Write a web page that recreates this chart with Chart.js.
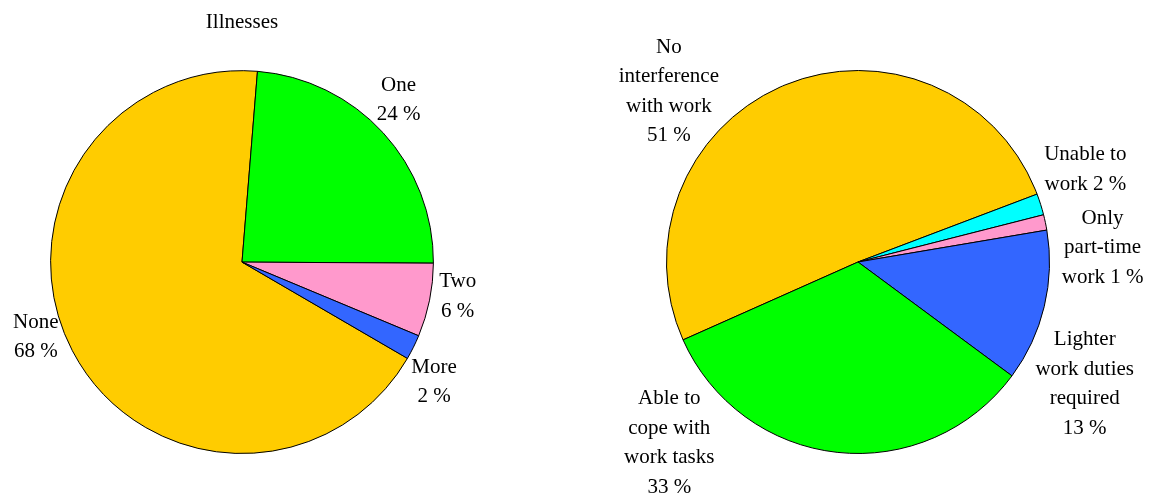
<!DOCTYPE html>
<html>
<head>
<meta charset="utf-8">
<script src="https://cdn.jsdelivr.net/npm/chart.js@4/dist/chart.umd.min.js"></script>
<style>
  html, body { margin: 0; padding: 0; background: #ffffff; }
  #wrap { position: relative; width: 1151px; height: 494px; background: #ffffff; }
  .layer { position: absolute; left: 0; top: 0; width: 1151px; height: 494px; }
</style>
</head>
<body>
<div id="wrap">
  <div class="layer"><canvas id="left" width="1151" height="494"></canvas></div>
  <div class="layer"><canvas id="right" width="1151" height="494"></canvas></div>
</div>
<script>
// ---- Data: left pie (Illnesses) ----
const leftTitle = "Illnesses";
const leftCategories = [["None"], ["One"], ["Two"], ["More"]];
const leftValues = [67.9, 23.8, 6.2, 2.1];
const leftColors = ["#FFCC00", "#00FF00", "#FF99CC", "#3366FF"];

// ---- Data: right pie ----
const rightCategories = [
  ["No", "interference", "with work"],
  ["Unable to", "work"],
  ["Only", "part-time", "work"],
  ["Lighter", "work duties", "required"],
  ["Able to", "cope with", "work tasks"]
];
const rightValues = [50.9, 1.8, 1.3, 12.8, 33.2];
const rightColors = ["#FFCC00", "#00FFFF", "#FF99CC", "#3366FF", "#00FF00"];

// ---- Label layout (angle clockwise from top in degrees, extra distance beyond radius) ----
const leftLabelAngle = [250, 44, 99, 122];
const leftLabelGap = [28, 34, 27, 35];
const leftPctInline = [false, false, false, false];
const rightLabelAngle = [312, 67.8, 86.7, 118.3, 226.2];
const rightLabelGap = [63, 54, 53.5, 66, 70];
const rightPctInline = [false, true, true, false, false];

const FONT = "'Liberation Serif', 'Times New Roman', serif";
const LABEL_SIZE = 21;
const LINE_H = 29.5;

const outsideLabels = {
  id: 'outsideLabels',
  afterDatasetsDraw(chart, args, opts) {
    const ctx = chart.ctx;
    const meta = chart.getDatasetMeta(0);
    const data = chart.data.datasets[0].data;
    ctx.save();
    ctx.font = LABEL_SIZE + "px " + FONT;
    ctx.fillStyle = "#000000";
    ctx.textAlign = "center";
    ctx.textBaseline = "middle";
    meta.data.forEach((arc, i) => {
      const p = arc.getProps(['x', 'y', 'outerRadius'], true);
      const lines = opts.categories[i].slice();
      const pct = Math.round(data[i]) + " %";
      if (opts.pctInline[i]) {
        lines[lines.length - 1] = lines[lines.length - 1] + " " + pct;
      } else {
        lines.push(pct);
      }
      const a = opts.angles[i] * Math.PI / 180;
      const d = p.outerRadius + opts.gaps[i];
      const cx = p.x + d * Math.sin(a);
      const cy = p.y - d * Math.cos(a);
      const top = cy - (lines.length - 1) * LINE_H / 2;
      lines.forEach((t, k) => ctx.fillText(t, cx, top + k * LINE_H));
    });
    ctx.restore();
  }
};

function makePie(id, categories, values, colors, rotation, padding, titleText, labelOpts) {
  return new Chart(document.getElementById(id), {
    type: 'pie',
    data: {
      labels: categories.map(c => c.join(' ')),
      datasets: [{
        data: values,
        backgroundColor: colors,
        borderColor: '#000000',
        borderWidth: 1,
        hoverOffset: 0
      }]
    },
    options: {
      responsive: false,
      animation: false,
      rotation: rotation,
      layout: { padding: padding },
      plugins: {
        legend: { display: false },
        tooltip: { enabled: false },
        title: titleText ? {
          display: true,
          text: titleText,
          color: '#000000',
          font: { family: FONT, size: 21, weight: 'normal' },
          padding: { top: 10, bottom: 35 }
        } : { display: false },
        outsideLabels: labelOpts
      },
      events: []
    },
    plugins: [outsideLabels]
  });
}

makePie('left', leftCategories, leftValues, leftColors, 120.2,
  { left: 50, right: 717, top: 0, bottom: 40 }, leftTitle,
  { categories: leftCategories, angles: leftLabelAngle, gaps: leftLabelGap, pctInline: leftPctInline });

makePie('right', rightCategories, rightValues, rightColors, 246,
  { left: 666, right: 101, top: 70, bottom: 40 }, null,
  { categories: rightCategories, angles: rightLabelAngle, gaps: rightLabelGap, pctInline: rightPctInline });
</script>
</body>
</html>
